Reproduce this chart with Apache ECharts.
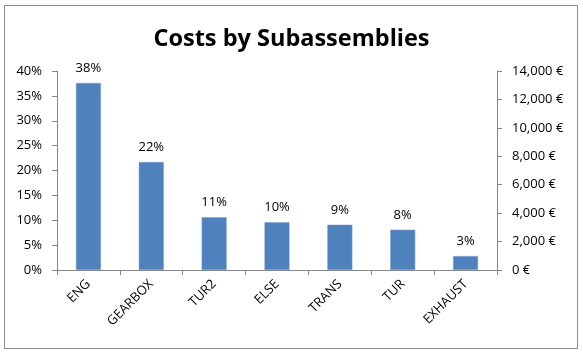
<!DOCTYPE html>
<html>
<head>
<meta charset="utf-8">
<script src="https://cdn.jsdelivr.net/npm/echarts@6/dist/echarts.min.js"></script>
<style>
  html, body { margin: 0; padding: 0; background: #fff; }
  #frame {
    position: absolute;
    left: 4px;
    top: 5px;
    width: 572px;
    height: 342px;
    border: 1.5px solid #8c8c8c;
  }
  #chart { position: absolute; left: 0; top: 0; width: 583px; height: 354px; }
</style>
</head>
<body>
<div id="frame"></div>
<div id="chart"></div>
<script>
// subassemblies and their share of total cost (%)
var categories = ["ENG", "GEARBOX", "TUR2", "ELSE", "TRANS", "TUR", "EXHAUST"];
var shares = [37.6, 21.7, 10.6, 9.6, 9.1, 8.1, 2.8];
// tick values
var pctTicks = [0, 5, 10, 15, 20, 25, 30, 35, 40];
var euroTicks = [0, 2000, 4000, 6000, 8000, 10000, 12000, 14000];

var font = "'Open Sans', 'Noto Sans', sans-serif";
var axisGray = "#868686";

var myChart = echarts.init(document.getElementById("chart"));
var options = {
  animation: false,
  title: {
    text: "Costs by Subassemblies",
    left: "center",
    top: 22,
    textStyle: {
      fontFamily: font,
      fontWeight: "bold",
      fontSize: 23.5,
      color: "#000",
    },
  },
  grid: {
    left: 57,
    right: 86,
    top: 71,
    bottom: 84,
    containLabel: false,
  },
  xAxis: {
    type: "category",
    data: categories,
    axisLine: { lineStyle: { color: axisGray } },
    axisTick: { show: true, length: 5, lineStyle: { color: axisGray } },
    axisLabel: {
      rotate: 45,
      interval: 0,
      margin: 12,
      color: "#000",
      fontFamily: font,
      fontSize: 13,
    },
  },
  yAxis: [
    {
      type: "value",
      min: pctTicks[0],
      max: pctTicks[pctTicks.length - 1],
      interval: pctTicks[1] - pctTicks[0],
      axisLine: { show: true, lineStyle: { color: axisGray } },
      axisTick: { show: true, length: 5, lineStyle: { color: axisGray } },
      splitLine: { show: false },
      axisLabel: {
        color: "#000",
        fontFamily: font,
        fontSize: 13,
        margin: 15,
        formatter: function (v) {
          return v + "%";
        },
      },
    },
    {
      type: "value",
      position: "right",
      min: euroTicks[0],
      max: euroTicks[euroTicks.length - 1],
      interval: euroTicks[1] - euroTicks[0],
      axisLine: { show: true, lineStyle: { color: axisGray } },
      axisTick: { show: true, length: 5, lineStyle: { color: axisGray } },
      splitLine: { show: false },
      axisLabel: {
        color: "#000",
        fontFamily: font,
        fontSize: 13,
        margin: 15,
        formatter: function (v) {
          return v.toLocaleString("en-US") + " €";
        },
      },
    },
  ],
  series: [
    {
      name: "Share",
      type: "bar",
      yAxisIndex: 0,
      barWidth: 25,
      data: shares,
      itemStyle: {
        color: "#4f81bd",
        borderColor: "#7a9fd0",
        borderWidth: 0.5,
      },
      label: {
        show: true,
        position: "top",
        distance: 8,
        color: "#000",
        fontFamily: font,
        fontSize: 13,
        formatter: function (p) {
          return Math.round(p.value) + "%";
        },
      },
    },
  ],
};
myChart.setOption(options);
</script>
</body>
</html>
